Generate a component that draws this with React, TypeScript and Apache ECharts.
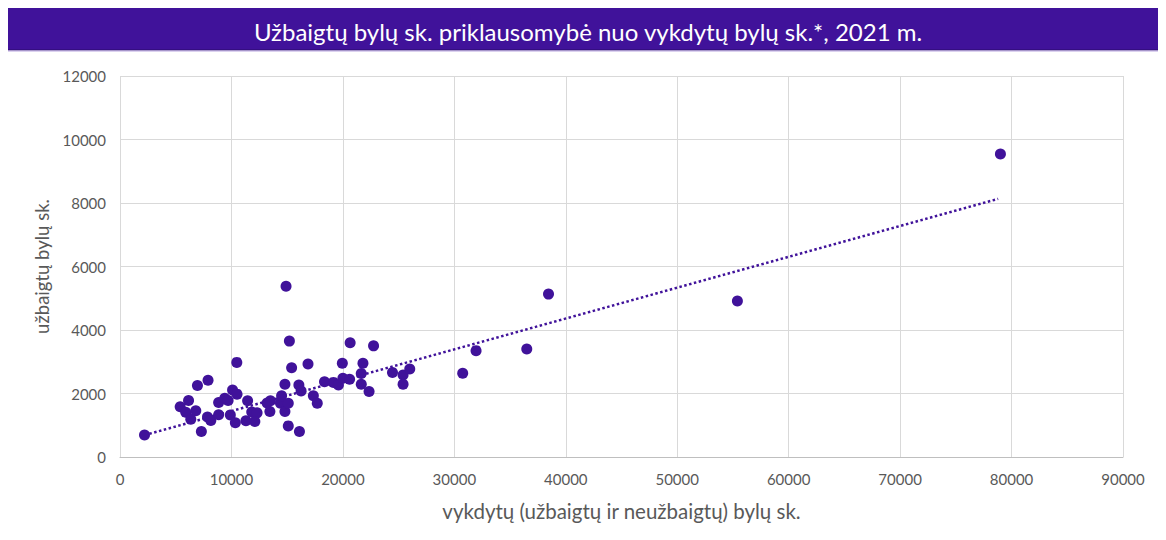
import React, { useEffect, useRef } from "react";
import * as echarts from "echarts";

const titleText = "Užbaigtų bylų sk. priklausomybė nuo vykdytų bylų sk.*, 2021 m.";
const xAxisTitle = "vykdytų (užbaigtų ir neužbaigtų) bylų sk.";
const yAxisTitle = "užbaigtų bylų sk.";

// vykdytų bylų sk. (x)
const handledCases = [
  2200, 5400, 5900, 6150, 6800, 6350, 6950, 7900, 7300, 7850,
  8150, 8850, 8850, 9400, 9700, 9900, 10100, 10500, 10350, 10480,
  11450, 11300, 11820, 12300, 12100, 13200, 13500, 13450, 14400, 14800,
  14500, 14800, 15100, 15100, 14900, 15200, 15400, 16100, 16050, 16250,
  16870, 17350, 17700, 18350, 19150, 19600, 20000, 20600, 19950, 20650,
  21650, 21650, 21800, 22350, 22750, 24450, 25400, 26000, 25400, 30750,
  31950, 36500, 38450, 55400, 79000,
];
// užbaigtų bylų sk. (y)
const completedCases = [
  690, 1580, 1410, 1780, 1460, 1190, 2250, 2420, 800, 1260,
  1150, 1330, 1720, 1850, 1780, 1320, 2110, 1980, 1080, 2980,
  1770, 1140, 1420, 1390, 1120, 1700, 1770, 1430, 1690, 1430,
  1930, 2290, 1690, 980, 5380, 3650, 2810, 800, 2270, 2080,
  2930, 1930, 1690, 2370, 2350, 2270, 2480, 2450, 2950, 3600,
  2630, 2290, 2950, 2060, 3500, 2660, 2580, 2770, 2290, 2640,
  3350, 3400, 5130, 4910, 9540,
];

// tiesinė tendencija (start and end)
const trendX = [2200, 78800];
const trendY = [690, 8130];

const purple = "#40129a";
const labelColor = "#595959";
const font = "Lato, 'Noto Sans', sans-serif";

export default function App() {
  const ref = useRef<HTMLDivElement>(null);
  useEffect(() => {
    if (!ref.current) return;
    const chart = echarts.init(ref.current, undefined, { renderer: "svg" });
    const points = handledCases.map((x, i) => [x, completedCases[i]]);
    const trend = trendX.map((x, i) => [x, trendY[i]]);

    chart.setOption({
      animation: false,
      backgroundColor: "#ffffff",
      textStyle: { fontFamily: font },
      graphic: [
        { type: "rect", shape: { x: 5, y: 3, width: 1161, height: 47 }, style: { fill: "#40129a", stroke: "#2a0b6a", lineWidth: 1 } },
        { type: "line", shape: { x1: 5, y1: 51, x2: 1166, y2: 51 }, style: { stroke: "#b9a6e0", lineWidth: 1 } },
        { type: "line", shape: { x1: 5.5, y1: 51, x2: 5.5, y2: 540 }, style: { stroke: "#d9d9d9", lineWidth: 1 } },
        {
          type: "text", x: 588, y: 31,
          style: { text: titleText, fill: "#ffffff", font: `24px ${font}`, align: "center", verticalAlign: "middle" },
        },
      ],
      grid: { left: 120, right: 43, top: 76, bottom: 83 },
      xAxis: {
        type: "value", min: 0, max: 90000, interval: 10000,
        name: xAxisTitle, nameLocation: "middle", nameGap: 43,
        nameTextStyle: { color: labelColor, fontSize: 20.5, fontFamily: font },
        axisLine: { show: true, lineStyle: { color: "#bfbfbf" } },
        axisTick: { show: false },
        axisLabel: { color: labelColor, fontSize: 15, margin: 14, fontFamily: font, formatter: (v: number) => String(v) },
        splitLine: { show: true, lineStyle: { color: "#d9d9d9", width: 1 } },
      },
      yAxis: {
        type: "value", min: 0, max: 12000, interval: 2000,
        name: yAxisTitle, nameLocation: "middle", nameGap: 61, nameRotate: 90,
        nameTextStyle: { color: labelColor, fontSize: 18.5, fontFamily: font },
        axisLine: { show: false },
        axisTick: { show: false },
        axisLabel: { color: labelColor, fontSize: 15, margin: 14, fontFamily: font, formatter: (v: number) => String(v) },
        splitLine: { show: true, lineStyle: { color: "#d9d9d9", width: 1 } },
      },
      series: [
        {
          type: "line", data: trend, symbol: "none", silent: true, z: 1,
          lineStyle: { color: purple, width: 2.5, type: [2.5, 2.5] },
        },
        {
          type: "scatter", data: points, symbol: "circle", symbolSize: 11, z: 2,
          itemStyle: { color: purple, opacity: 1 },
        },
      ],
    });
    return () => chart.dispose();
  }, []);
  return <div ref={ref} style={{ width: 1166, height: 540, margin: -8 }} />;
}
